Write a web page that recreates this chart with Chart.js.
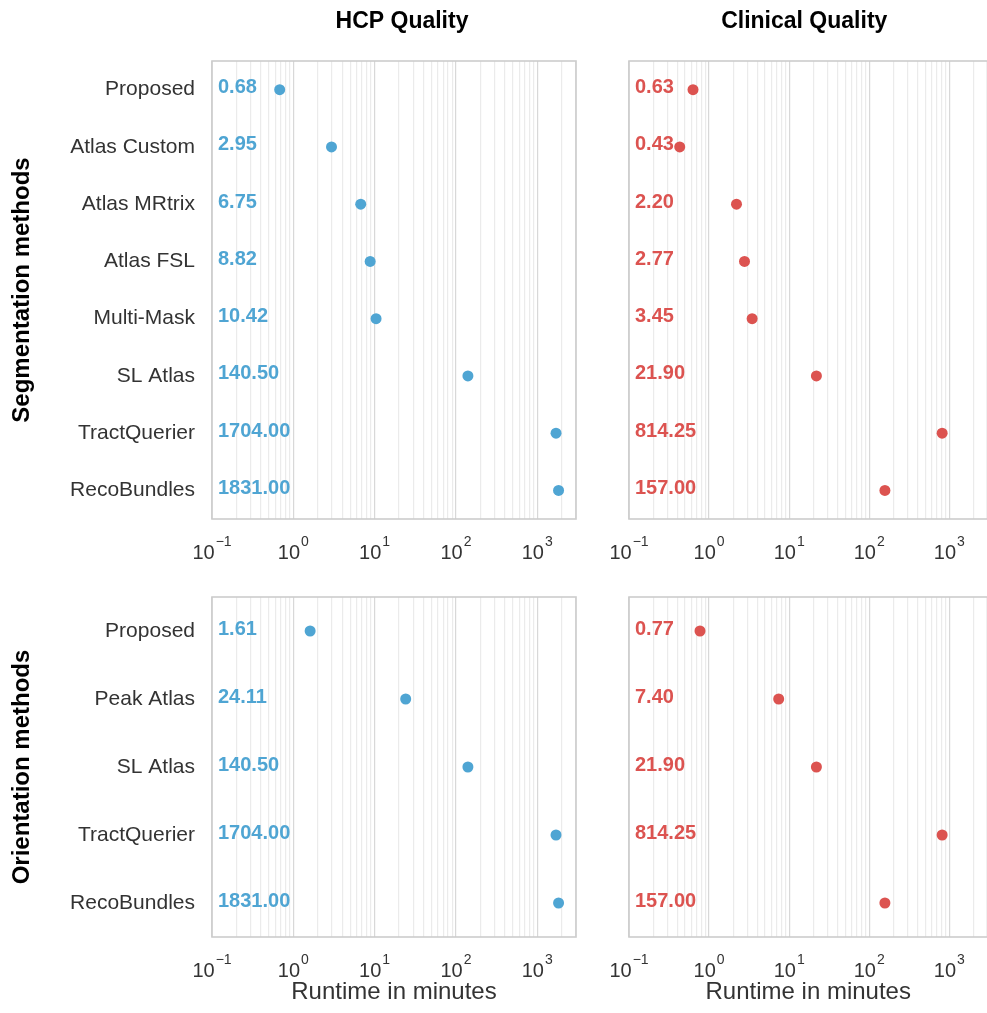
<!DOCTYPE html>
<html>
<head>
<meta charset="utf-8">
<script src="https://cdn.jsdelivr.net/npm/chart.js@4"></script>
<style>
  html, body { margin: 0; padding: 0; background: #fff; overflow: hidden; }
  body { width: 987px; height: 1013px; position: relative; }
  canvas { position: absolute; }
</style>
</head>
<body>
<canvas id="segHcp" width="600" height="580" style="left:0;top:0"></canvas>
<canvas id="segClin" width="383" height="580" style="left:610px;top:0"></canvas>
<canvas id="oriHcp" width="600" height="433" style="left:0;top:580px"></canvas>
<canvas id="oriClin" width="383" height="433" style="left:610px;top:580px"></canvas>
<script>
var segMethods = ['Proposed', 'Atlas Custom', 'Atlas MRtrix', 'Atlas FSL', 'Multi-Mask', 'SL Atlas', 'TractQuerier', 'RecoBundles'];
var segHcp = [0.68, 2.95, 6.75, 8.82, 10.42, 140.50, 1704.00, 1831.00];
var segClinical = [0.63, 0.43, 2.20, 2.77, 3.45, 21.90, 814.25, 157.00];

var oriMethods = ['Proposed', 'Peak Atlas', 'SL Atlas', 'TractQuerier', 'RecoBundles'];
var oriHcp = [1.61, 24.11, 140.50, 1704.00, 1831.00];
var oriClinical = [0.77, 7.40, 21.90, 814.25, 157.00];

var tickExponents = [-1, 0, 1, 2, 3];

var BLUE = '#4fa5d3',
    RED = '#dc5350',
    FONT = '"Liberation Sans", Arial, Helvetica, sans-serif';

Chart.defaults.font.family = FONT;

// minor + major grid positions for the log axis (0.1 .. 3000)
var gridValues = [];
tickExponents.forEach(function(e){
    for (var k = 1; k <= 9; k++) {
        var v = k * Math.pow(10, e);
        if (v <= 3000.0001) gridValues.push(v);
    }
});

function isDecade(v){
    var l = Math.log10(v);
    return Math.abs(l - Math.round(l)) < 1e-9;
}

var decor = {
    id: 'decor',
    beforeDatasetsDraw: function(chart){
        var a = chart.chartArea, c = chart.ctx;
        c.save();
        c.strokeStyle = '#cccccc';
        c.lineWidth = 1.6;
        c.strokeRect(a.left, a.top, a.right - a.left, a.bottom - a.top);
        c.restore();
    },
    afterDatasetsDraw: function(chart, args, opts){
        var a = chart.chartArea, c = chart.ctx,
            xs = chart.scales.x, ys = chart.scales.y,
            ds = chart.data.datasets[0];
        c.save();
        // value labels
        c.font = 'bold 20px ' + FONT;
        c.fillStyle = ds.backgroundColor;
        c.textAlign = 'left';
        c.textBaseline = 'middle';
        ds.data.forEach(function(p, i){
            c.fillText(p.x.toFixed(2), a.left + 6, ys.getPixelForValue(i) - 2);
        });
        // x tick labels 10^e
        c.fillStyle = '#333333';
        c.textBaseline = 'alphabetic';
        tickExponents.forEach(function(e){
            var px = xs.getPixelForValue(Math.pow(10, e)),
                exp = e < 0 ? '\u2212' + (-e) : String(e);
            c.font = '20px ' + FONT;
            var w1 = c.measureText('10').width;
            c.font = '14px ' + FONT;
            var w2 = c.measureText(exp).width;
            var x0 = px - (w1 + 1 + w2) / 2;
            c.font = '20px ' + FONT;
            c.fillText('10', x0, a.bottom + 40);
            c.font = '14px ' + FONT;
            c.fillText(exp, x0 + w1 + 1, a.bottom + 27);
        });
        // column title
        if (opts.title) {
            c.font = 'bold 23px ' + FONT;
            c.fillStyle = '#000000';
            c.textAlign = 'center';
            c.textBaseline = 'middle';
            c.fillText(opts.title, (a.left + a.right) / 2 + (opts.titleShift || 0), 22);
        }
        c.restore();
    }
};

function panel(id, labels, values, color, o){
    return new Chart(document.getElementById(id), {
        type: 'scatter',
        data: {
            labels: labels,
            datasets: [{
                data: labels.map(function(m, i){ return {x: values[i], y: m}; }),
                backgroundColor: color,
                pointRadius: 5.5,
                pointHoverRadius: 5.5,
                borderWidth: 0
            }]
        },
        options: {
            responsive: false,
            animation: false,
            devicePixelRatio: 1,
            layout: { padding: o.padding },
            plugins: {
                legend: { display: false },
                tooltip: { enabled: false },
                decor: { title: o.title, titleShift: o.titleShift }
            },
            scales: {
                x: {
                    type: 'logarithmic',
                    min: 0.1,
                    max: 3000,
                    afterBuildTicks: function(s){ s.ticks = gridValues.map(function(v){ return {value: v}; }); },
                    afterFit: function(s){
                        s.height = o.xHeight;
                        s.paddingLeft = 0; s.paddingRight = 0;
                    },
                    ticks: { display: false },
                    grid: {
                        color: function(c){ return c.tick && isDecade(c.tick.value) ? '#d8d8d8' : '#ebebeb'; },
                        lineWidth: 1.2,
                        drawTicks: false
                    },
                    border: { display: false },
                    title: {
                        display: !!o.xTitle,
                        text: 'Runtime in minutes',
                        color: '#333333',
                        font: { size: 24 },
                        padding: { top: 0, bottom: 6 }
                    }
                },
                y: {
                    type: 'category',
                    labels: labels,
                    offset: true,
                    afterFit: function(s){
                        s.width = o.yWidth;
                        s.paddingTop = 0; s.paddingBottom = 0;
                    },
                    grid: { display: false, drawTicks: false },
                    border: { display: false },
                    ticks: {
                        display: !!o.yTitle,
                        color: '#333333',
                        font: { size: 21 },
                        padding: 17
                    },
                    title: {
                        display: !!o.yTitle,
                        text: o.yTitle || '',
                        color: '#000000',
                        font: { size: 24, weight: 'bold' },
                        padding: { top: 8, bottom: 0 }
                    }
                }
            }
        },
        plugins: [decor]
    });
}

panel('segHcp', segMethods, segHcp, BLUE, {
    padding: {top: 61, right: 24, left: 0, bottom: 0},
    yWidth: 212, xHeight: 61, yTitle: 'Segmentation methods', title: 'HCP Quality', titleShift: 8
});
panel('segClin', segMethods, segClinical, RED, {
    padding: {top: 61, right: 0, left: 0, bottom: 0},
    yWidth: 19, xHeight: 61, title: 'Clinical Quality', titleShift: -4
});
panel('oriHcp', oriMethods, oriHcp, BLUE, {
    padding: {top: 17, right: 24, left: 0, bottom: 0},
    yWidth: 212, xHeight: 76, yTitle: 'Orientation methods', xTitle: true
});
panel('oriClin', oriMethods, oriClinical, RED, {
    padding: {top: 17, right: 0, left: 0, bottom: 0},
    yWidth: 19, xHeight: 76, xTitle: true
});
</script>
</body>
</html>
